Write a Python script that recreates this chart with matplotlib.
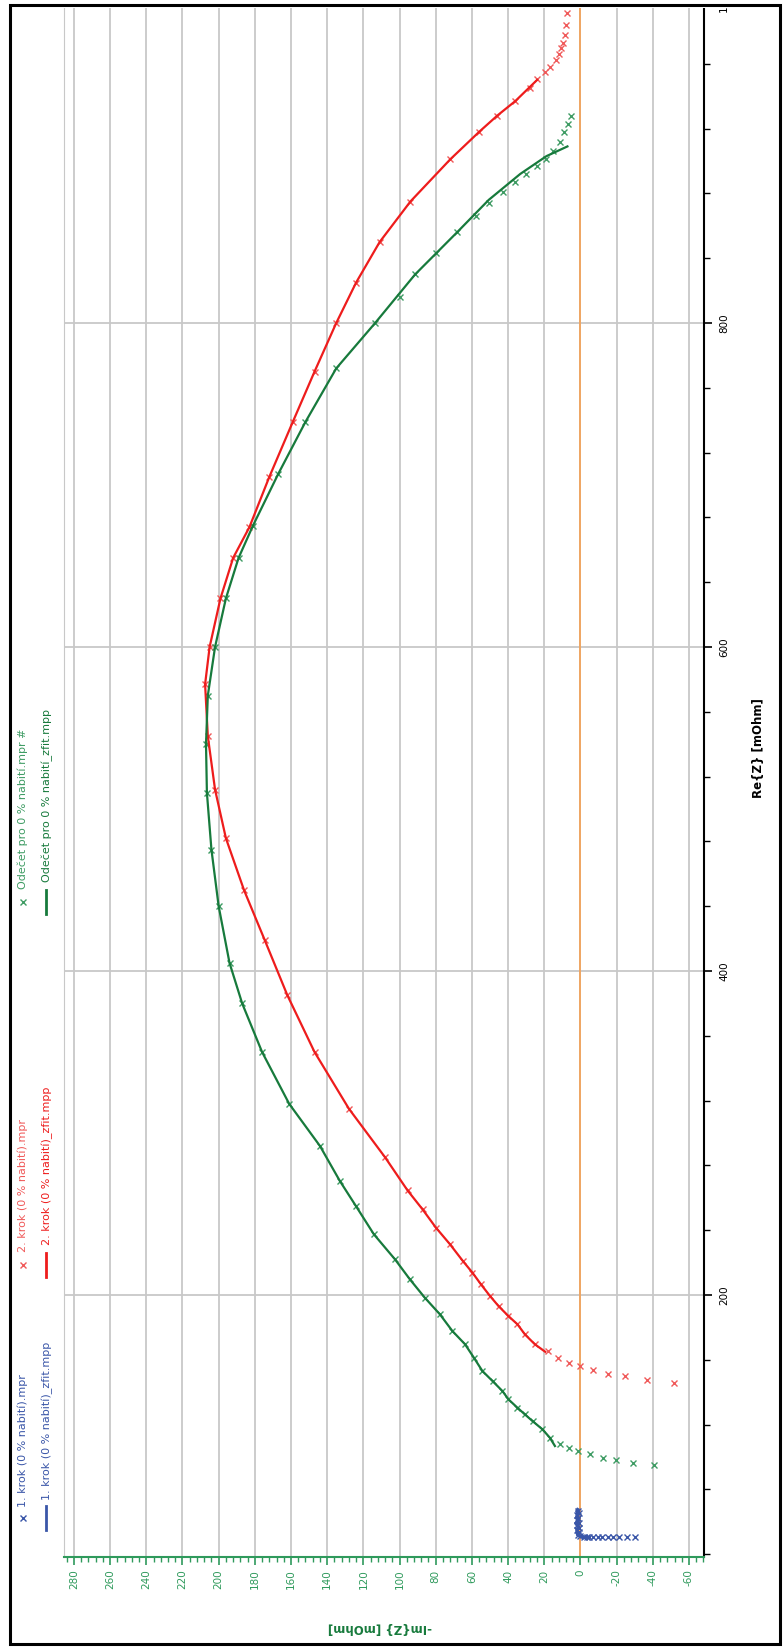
import matplotlib
matplotlib.use("Agg")
import matplotlib.pyplot as plt
from matplotlib.ticker import MultipleLocator, FixedLocator
from matplotlib.lines import Line2D
from matplotlib.patches import Rectangle

plt.rcParams['font.family'] = ['DejaVu Sans']
plt.rcParams['axes.unicode_minus'] = False

# ---- data: (-Im(Z), Re(Z)) in mOhm ----
# 1. krok (0 % nabití)
krok1_mim = [-30.0, -25.5, -21.5, -18.0, -15.0, -12.0, -9.5, -7.0, -5.0, -3.5, -2.0,
             0.5, 1.5, 1.0, 2.0, 1.0, 2.0, 1.0, 2.0, 1.5, 2.0, 1.0, 1.5]
krok1_re = [50.5, 50.5, 50.5, 50.5, 50.5, 50.5, 50.5, 50.5, 50.5, 50.5, 50.5,
            51.0, 52.0, 53.5, 55.0, 56.5, 58.0, 59.5, 61.0, 62.5, 64.0, 65.5, 67.0]
krok1_fit_mim = [-3.0, 0.0, 1.5, 2.0, 1.0, 2.5, 1.0, 2.0, 1.0, 2.0, 1.5]
krok1_fit_re = [50.5, 51.0, 52.0, 55.0, 57.0, 59.0, 61.0, 63.0, 65.0, 66.5, 67.5]

# 2. krok (0 % nabití)
krok2_mim = [-51.7, -37.0, -24.6, -15.5, -7.2, 0.3, 6.1, 12.2, 17.7,
             25.2, 30.7, 34.8, 39.8, 45.3, 50.0, 55.0, 59.7, 65.0, 72.1, 79.9,
             87.3, 95.6, 108.0, 128.0, 147.0, 162.0, 174.5, 186.0, 196.0, 202.0,
             206.0, 207.5, 205.0, 199.0, 192.0, 183.0, 172.0, 159.0, 147.0, 135.0,
             124.0, 111.0, 94.0, 72.0, 56.0, 46.0, 36.0, 27.9, 23.8, 19.6,
             16.9, 13.5, 11.9, 10.5, 9.7, 8.6, 8.0, 7.7]
krok2_re = [145.9, 147.5, 149.8, 151.4, 153.9, 156.2, 158.2, 161.3, 165.4,
            169.6, 175.7, 181.9, 187.0, 193.2, 199.4, 206.6, 213.8, 221.0, 231.3, 241.6,
            252.9, 264.6, 285.0, 315.0, 350.0, 385.0, 419.0, 450.0, 482.0, 512.0,
            545.0, 577.0, 600.0, 630.0, 655.0, 674.0, 705.0, 739.0, 770.0, 800.0,
            825.0, 850.0, 875.0, 901.0, 918.0, 928.0, 937.0, 945.3, 950.4, 955.1,
            958.0, 962.2, 965.9, 969.9, 973.0, 977.6, 983.8, 991.5]
krok2_fit_mim = [19.5, 25.2, 30.7, 34.8, 39.8, 45.3, 50.0, 55.0, 59.7, 65.0, 72.1,
                 79.9, 87.3, 95.6, 108.0, 128.0, 147.0, 162.0, 174.5, 186.0, 196.0,
                 202.0, 206.0, 207.5, 205.0, 199.0, 192.0, 183.0, 172.0, 159.0, 147.0,
                 135.0, 124.0, 111.0, 94.0, 72.0, 56.0, 46.0, 36.0, 24.0]
krok2_fit_re = [165.0, 169.6, 175.7, 181.9, 187.0, 193.2, 199.4, 206.6, 213.8, 221.0, 231.3,
                241.6, 252.9, 264.6, 285.0, 315.0, 350.0, 385.0, 419.0, 450.0, 482.0,
                512.0, 545.0, 577.0, 600.0, 630.0, 655.0, 674.0, 705.0, 739.0, 770.0,
                800.0, 825.0, 850.0, 875.0, 901.0, 918.0, 928.0, 937.0, 950.0]

# Odečet pro 0 % nabití
odecet_mim = [-40.4, -29.3, -19.6, -12.2, -5.3, 1.1, 6.4, 11.3,
              16.9, 21.0, 26.5, 30.7, 34.8, 39.8, 43.1, 48.6, 54.2, 58.9, 63.8, 70.8,
              77.7, 86.0, 94.3, 102.5, 114.2, 124.1, 133.0, 144.0, 161.0, 176.0,
              187.0, 194.0, 200.0, 204.0, 206.5, 207.0, 206.0, 202.0, 196.0, 189.0,
              181.0, 167.0, 152.0, 135.0, 113.5, 100.0, 91.4, 80.0, 68.2, 58.0,
              50.7, 43.0, 36.0, 30.0, 24.0, 19.0, 15.0, 11.5, 9.0, 7.0, 5.5]
odecet_re = [95.1, 96.5, 98.0, 99.6, 102.1, 103.7, 105.7, 107.8,
             111.9, 117.1, 122.2, 126.3, 130.4, 135.6, 140.7, 146.9, 153.1, 161.3, 169.6, 177.8,
             188.1, 198.3, 209.7, 222.0, 237.5, 254.9, 270.4, 292.0, 318.0, 350.0,
             380.0, 405.0, 440.0, 475.0, 510.0, 540.0, 570.0, 600.0, 630.0, 655.0,
             675.0, 707.0, 739.0, 772.0, 800.0, 816.0, 830.0, 843.0, 856.0, 866.0,
             874.0, 881.0, 887.0, 892.0, 897.0, 901.0, 906.0, 912.0, 918.0, 923.0, 927.5]
odecet_fit_mim = [14.1, 16.9, 21.0, 26.5, 30.7, 34.8, 39.8, 43.1, 48.6, 54.2, 58.9,
                  63.8, 70.8, 77.7, 86.0, 94.3, 102.5, 114.2, 124.1, 133.0, 144.0,
                  161.0, 176.0, 187.0, 194.0, 200.0, 204.0, 206.5, 207.0, 206.0, 202.0,
                  196.0, 189.0, 181.0, 167.0, 152.0, 135.0, 113.5, 91.4, 68.2, 50.7,
                  33.3, 18.8, 7.2]
odecet_fit_re = [106.8, 111.9, 117.1, 122.2, 126.3, 130.4, 135.6, 140.7, 146.9, 153.1, 161.3,
                 169.6, 177.8, 188.1, 198.3, 209.7, 222.0, 237.5, 254.9, 270.4, 292.0,
                 318.0, 350.0, 380.0, 405.0, 440.0, 475.0, 510.0, 540.0, 570.0, 600.0,
                 630.0, 655.0, 675.0, 707.0, 739.0, 772.0, 800.0, 830.0, 856.0, 876.0,
                 892.0, 903.0, 909.0]

im_ticks = list(range(-60, 281, 20))
re_ticks = [200, 400, 600, 800, 1000]

legend_labels = ["1. krok (0 % nabití).mpr", "1. krok (0 % nabití)_zfit.mpp",
                 "2. krok (0 % nabití).mpr", "2. krok (0 % nabití)_zfit.mpp",
                 "Odečet pro 0 % nabití.mpr #", "Odečet pro 0 % nabití_zfit.mpp"]

# ---- styling ----
BLUE = '#3a56a8'
RED_LINE = '#ee1c1c'
RED_MK = '#f05a5a'
GREEN_LINE = '#177a3c'
GREEN_MK = '#3f9c64'
TICK_GREEN = '#2f9a5c'
GRID = '#c8c8c8'
ORANGE = '#f3a35a'

W, H = 783, 1648
fig = plt.figure(figsize=(W / 100, H / 100), dpi=100)


def fx(px):
    return px / W


def fy(py):
    return 1 - py / H


ax = fig.add_axes([fx(64), fy(1557), fx(704) - fx(64), fy(-1) - fy(1557)])
ax.set_xlim(285.5, -68.3)
ax.set_ylim(38.3, 1000)

# grid
for v in im_ticks:
    ax.axvline(v, color=GRID, lw=1.3, zorder=0)
for v in re_ticks[:-1]:
    ax.axhline(v, color=GRID, lw=1.3, zorder=0)
ax.axvline(0, color=ORANGE, lw=1.3, zorder=1)

# series
mk = dict(ls='none', marker='x', ms=5, mew=1.0)
ax.plot(krok1_mim, krok1_re, color=BLUE, zorder=3, **mk)
ax.plot(krok1_fit_mim, krok1_fit_re, color=BLUE, lw=2.5, zorder=4)
ax.plot(krok2_mim, krok2_re, color=RED_MK, zorder=3, **mk)
ax.plot(krok2_fit_mim, krok2_fit_re, color=RED_LINE, lw=1.6, zorder=4)
ax.plot(odecet_mim, odecet_re, color=GREEN_MK, zorder=3, **mk)
ax.plot(odecet_fit_mim, odecet_fit_re, color=GREEN_LINE, lw=1.6, zorder=4)

# axes frame
ax.spines['top'].set_visible(False)
ax.spines['left'].set_color(GRID)
ax.spines['bottom'].set_color(TICK_GREEN)
ax.spines['bottom'].set_linewidth(1.5)
ax.spines['right'].set_color('black')
ax.spines['right'].set_linewidth(1.5)

ax.xaxis.set_major_locator(FixedLocator(im_ticks))
ax.xaxis.set_minor_locator(MultipleLocator(4))
ax.yaxis.set_major_locator(FixedLocator(re_ticks))
ax.yaxis.set_minor_locator(MultipleLocator(40))
ax.yaxis.tick_right()

ax.tick_params(axis='x', which='major', direction='out', length=6, width=1.2,
               color=TICK_GREEN, labelcolor=TICK_GREEN, labelsize=7.5,
               labelrotation=90, pad=3)
ax.tick_params(axis='x', which='minor', direction='out', length=3.5, width=1.0,
               color=TICK_GREEN)
ax.tick_params(axis='y', which='major', direction='out', length=6, width=1.2,
               color='black', labelcolor='black', labelsize=7.5,
               labelrotation=90, pad=5)
ax.tick_params(axis='y', which='minor', direction='out', length=4, width=1.0,
               color='black')
for lbl in ax.get_yticklabels():
    lbl.set_verticalalignment('center')

# axis titles
fig.text(fx(759), fy(748), "Re{Z} [mOhm]", rotation=90, ha='center', va='center',
         fontsize=8.5, fontweight='bold', color='black')
fig.text(fx(380), fy(1627), "-Im{Z} [mOhm]", rotation=180, ha='center', va='center',
         fontsize=8.5, fontweight='bold', color=GREEN_LINE)

# legend, drawn in three groups of two rows
groups = [(BLUE, BLUE, 1518, 1507), (RED_MK, RED_LINE, 1265, 1252), (GREEN_MK, GREEN_LINE, 902, 889)]
for i, (mcol, lcol, ys, yt) in enumerate(groups):
    fig.add_artist(Line2D([fx(23)], [fy(ys)], ls='none', marker='x', ms=4.5, mew=1.0,
                          color=mcol, transform=fig.transFigure))
    fig.add_artist(Line2D([fx(46), fx(46)], [fy(ys + 12), fy(ys - 12)], lw=2.0,
                          color=lcol, transform=fig.transFigure))
    fig.text(fx(23), fy(yt), legend_labels[2 * i], rotation=90, rotation_mode='anchor',
             ha='left', va='center', fontsize=8, color=mcol)
    fig.text(fx(47), fy(yt - 7), legend_labels[2 * i + 1], rotation=90, rotation_mode='anchor',
             ha='left', va='center', fontsize=8, color=lcol)

# white strip above the frame, then the outer frame
fig.add_artist(Rectangle((0, fy(8)), 1, 1 - fy(8), fill=True, fc='white', ec='none',
                         transform=fig.transFigure, zorder=9))
fig.add_artist(Rectangle((fx(10), fy(1644)), fx(780) - fx(10), fy(5) - fy(1644),
                         fill=False, lw=2.2, ec='black', transform=fig.transFigure, zorder=10))

fig.savefig("out.png", dpi=100)
